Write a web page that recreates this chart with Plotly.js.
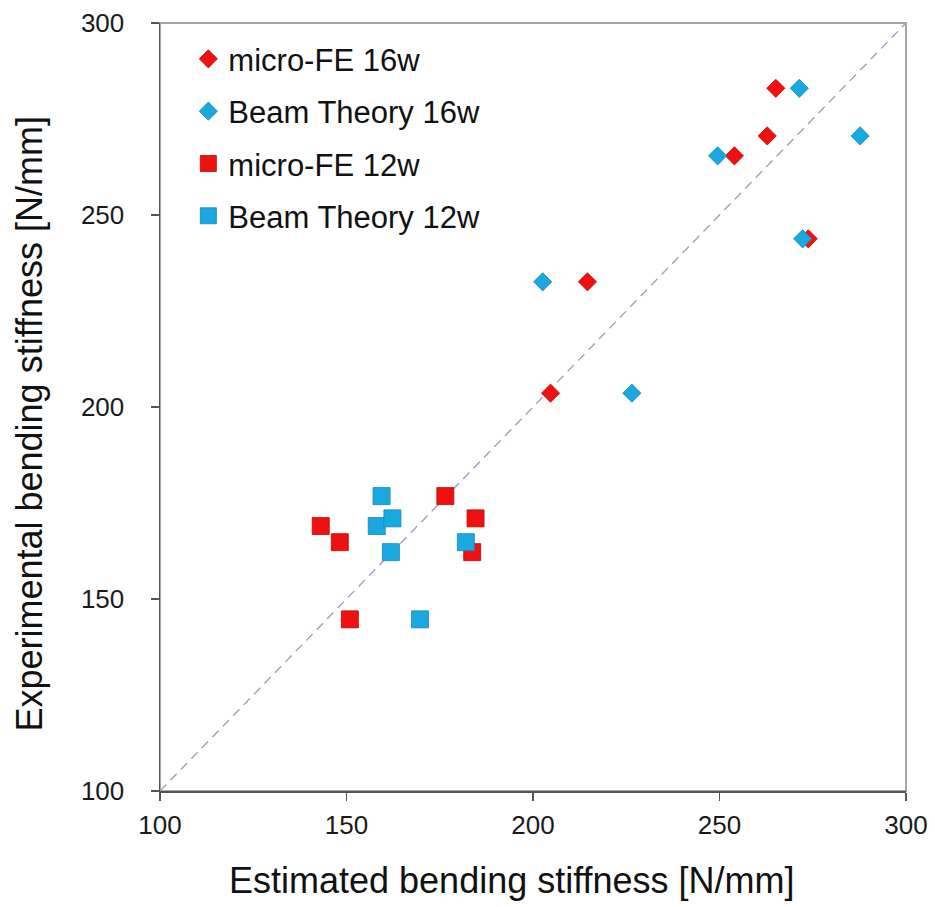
<!DOCTYPE html>
<html>
<head>
<meta charset="utf-8">
<script src="https://cdn.plot.ly/plotly-3.0.1.min.js"></script>
<style>
  html, body { margin: 0; padding: 0; background: #ffffff; }
  #chart { width: 935px; height: 907px; }
</style>
</head>
<body>
<div id="chart"></div>
<script>
// Estimated vs. experimental bending stiffness [N/mm]
const feEst16 = [265.1, 262.8, 254.0, 273.8, 214.6, 204.7];
const feExp16 = [283.0, 270.6, 265.4, 243.8, 232.6, 203.6];

const btEst16 = [271.4, 287.7, 249.5, 272.3, 202.6, 226.5];
const btExp16 = [283.0, 270.6, 265.4, 243.8, 232.6, 203.6];

const feEst12 = [143.1, 148.2, 176.5, 184.6, 183.7, 150.9];
const feExp12 = [169.0, 164.8, 176.8, 171.0, 162.2, 144.7];

const btEst12 = [158.1, 182.0, 159.4, 162.3, 161.9, 169.7];
const btExp12 = [169.0, 164.8, 176.8, 171.0, 162.2, 144.7];

// line of equality
const identX = [100, 300];
const identY = [100, 300];

const axisRange = [100, 300];
const tickVals = [100, 150, 200, 250, 300];

const seriesNames = ['micro-FE 16w', 'Beam Theory 16w', 'micro-FE 12w', 'Beam Theory 12w'];

const RED = '#f01010';
const RED_EDGE = '#b80a0a';
const BLUE = '#19a9e1';
const BLUE_EDGE = '#1186b8';

const FONT = 'Liberation Sans, Arial, sans-serif';

const traces = [
  {
    x: identX, y: identY, mode: 'lines', showlegend: false, hoverinfo: 'skip',
    line: { color: '#a39fbd', width: 1.4, dash: '9px,6px' }
  },
  {
    x: feEst16, y: feExp16, name: seriesNames[0], mode: 'markers', legendgroup: 'a',
    marker: { symbol: 'diamond', size: 14, color: RED, line: { color: RED_EDGE, width: 0.8 } }
  },
  {
    x: btEst16, y: btExp16, name: seriesNames[1], mode: 'markers', legendgroup: 'b',
    marker: { symbol: 'diamond', size: 14, color: BLUE, line: { color: BLUE_EDGE, width: 0.8 } }
  },
  {
    x: feEst12, y: feExp12, name: seriesNames[2], mode: 'markers', legendgroup: 'c',
    marker: { symbol: 'square', size: 17, color: RED, line: { color: RED_EDGE, width: 0.8 } }
  },
  {
    x: btEst12, y: btExp12, name: seriesNames[3], mode: 'markers', legendgroup: 'd',
    marker: { symbol: 'square', size: 17, color: BLUE, line: { color: BLUE_EDGE, width: 0.8 } }
  }
];

const axisCommon = {
  range: axisRange,
  tickmode: 'array',
  tickvals: tickVals,
  showgrid: false,
  zeroline: false,
  showline: true,
  linecolor: '#555555',
  linewidth: 1.5,
  ticks: 'outside',
  ticklen: 8,
  tickwidth: 1.2,
  tickcolor: '#555555',
  tickfont: { family: FONT, size: 26, color: '#1a1a1a' }
};

const layout = {
  width: 935,
  height: 907,
  paper_bgcolor: '#ffffff',
  plot_bgcolor: '#ffffff',
  margin: { l: 160, r: 29, t: 23, b: 116 },
  xaxis: Object.assign({}, axisCommon, { ticklabelstandoff: 2 }),
  yaxis: Object.assign({}, axisCommon, { ticklabelstandoff: 21 }),
  showlegend: true,
  legend: {
    x: 0.038, y: 0.988, xanchor: 'left', yanchor: 'top',
    bgcolor: 'rgba(255,255,255,0)',
    font: { family: FONT, size: 31, color: '#111111' },
    tracegroupgap: 9,
    itemclick: false
  },
  shapes: [
    {
      type: 'rect', xref: 'paper', yref: 'paper', x0: 0, x1: 1, y0: 0, y1: 1,
      line: { color: '#a6a6a6', width: 2 }, layer: 'below'
    }
  ],
  annotations: [
    {
      text: 'Estimated bending stiffness [N/mm]', xref: 'paper', yref: 'paper',
      x: 0.472, y: -0.116, xanchor: 'center', yanchor: 'middle', showarrow: false,
      font: { family: FONT, size: 36, color: '#111111' }
    },
    {
      text: 'Experimental bending stiffness [N/mm]', xref: 'paper', yref: 'paper',
      x: -0.175, y: 0.479, xanchor: 'center', yanchor: 'middle', showarrow: false, textangle: -90,
      font: { family: FONT, size: 36, color: '#111111' }
    }
  ]
};

Plotly.newPlot('chart', traces, layout, { staticPlot: true, displayModeBar: false });
</script>
</body>
</html>
